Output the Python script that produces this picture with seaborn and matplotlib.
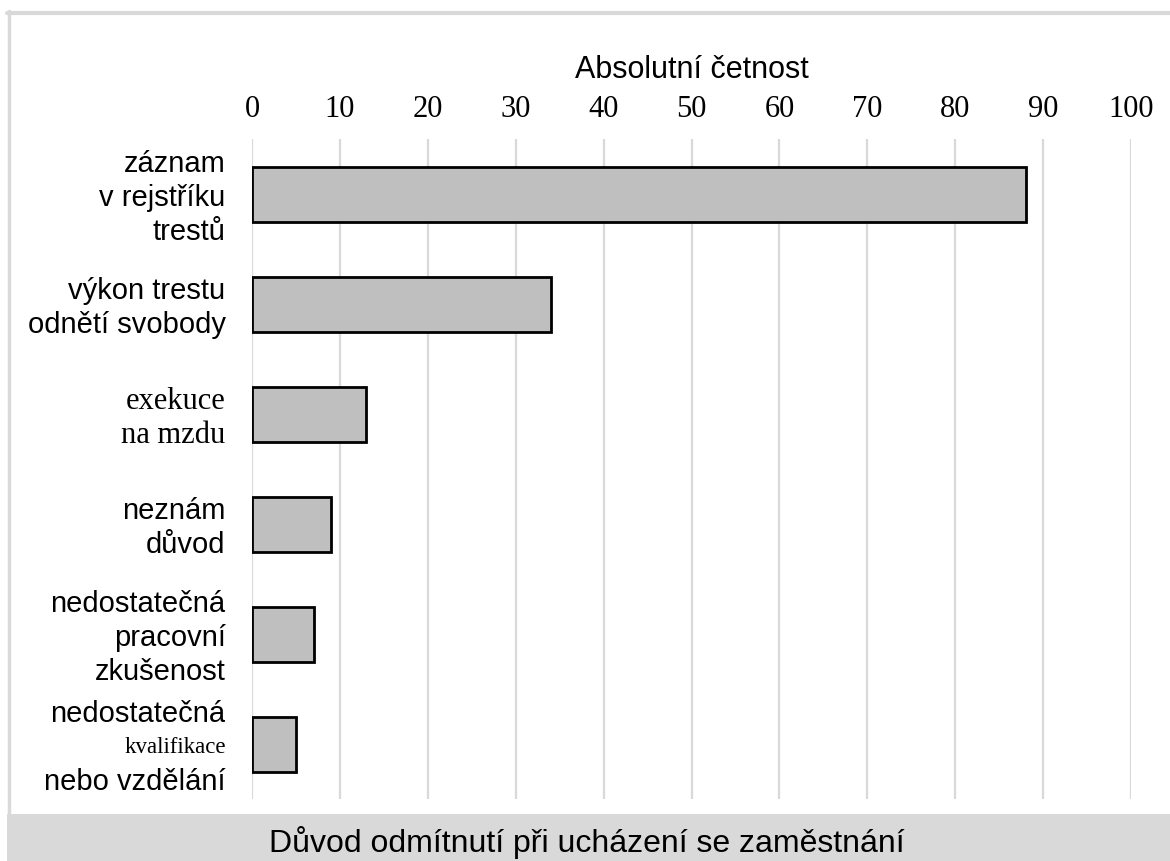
import matplotlib
matplotlib.use("Agg")
import matplotlib.pyplot as plt
from matplotlib.patches import Rectangle
from matplotlib.lines import Line2D
import seaborn as sns
import pandas as pd

# Reasons for rejection when applying for a job, with absolute frequencies
categories = [
    "záznam\nv rejstříku\ntrestů",
    "výkon trestu\nodnětí svobody",
    "exekuce\nna mzdu",
    "neznám\ndůvod",
    "nedostatečná\npracovní\nzkušenost",
    "nedostatečná\nkvalifikace\nnebo vzdělání",
]
values = [88, 34, 13, 9, 7, 5]
# lines of the category labels that are set in a serif face, with their size
serif_lines = {"exekuce": 22, "na mzdu": 22, "kvalifikace": 16.5}
x_ticks = [0, 10, 20, 30, 40, 50, 60, 70, 80, 90, 100]
x_title = "Absolutní četnost"
bottom_title = "Důvod odmítnutí při ucházení se zaměstnání"

SANS = "Liberation Sans"
SERIF = "Liberation Serif"
GRID = "#d9d9d9"

sns.set_theme(style="white")
plt.rcParams["font.family"] = [SANS, "DejaVu Sans"]

W, H = 1170, 862
fig = plt.figure(figsize=(W / 100, H / 100), dpi=100)
ax = fig.add_axes([252 / W, 1 - 800 / H, (1131 - 252) / W, (800 - 140) / H])

df = pd.DataFrame({"reason": categories, "count": values})
sns.barplot(data=df, x="count", y="reason", orient="h", color="#bfbfbf",
            saturation=1, edgecolor="black", linewidth=2, width=0.5, ax=ax,
            zorder=3)

ax.set_xlim(0, 100)
ax.set_ylim(len(categories) - 0.5, -0.5)
ax.set_xticks(x_ticks)
ax.set_xticklabels([str(t) for t in x_ticks], fontfamily=SERIF, fontsize=22)
ax.xaxis.tick_top()
ax.xaxis.set_label_position("top")
ax.tick_params(axis="x", length=0, pad=11.5, colors="black")
ax.set_xlabel(x_title, fontsize=22, labelpad=12, color="black")
ax.set_ylabel("")
ax.set_yticks([])
for s in ax.spines.values():
    s.set_visible(False)
ax.grid(axis="x", color=GRID, linewidth=1.6, zorder=0)
ax.grid(axis="y", visible=False)
ax.set_axisbelow(True)

# multi-line category labels, some lines set in a serif face
line_step = 24.5  # points between lines
for i, label in enumerate(categories):
    lines = label.split("\n")
    n = len(lines)
    for j, ln in enumerate(lines):
        if ln in serif_lines:
            fam, size = SERIF, serif_lines[ln]
        else:
            fam, size = SANS, 21
        ax.annotate(ln, xy=(0, i), xycoords=ax.get_yaxis_transform(),
                    xytext=(-19, -(j - (n - 1) / 2) * line_step),
                    textcoords="offset points", ha="right",
                    va="center_baseline", fontsize=size, family=fam,
                    color="black", annotation_clip=False)

# outer frame and bottom caption band
fig.patches.append(Rectangle((7 / W, 0), 1 - 7 / W, 47 / H,
                             transform=fig.transFigure, facecolor=GRID,
                             edgecolor="none", zorder=0))
fig.lines.append(Line2D([7 / W, 1], [1 - 14 / H, 1 - 14 / H],
                        transform=fig.transFigure, color=GRID, linewidth=3))
fig.lines.append(Line2D([8.5 / W, 8.5 / W], [47 / H, 1 - 12 / H],
                        transform=fig.transFigure, color=GRID, linewidth=2.5))
fig.text(587 / W, 1 - 839 / H, bottom_title, ha="center",
         va="center_baseline", fontsize=23, color="black")

fig.savefig("out.png", dpi=100)
